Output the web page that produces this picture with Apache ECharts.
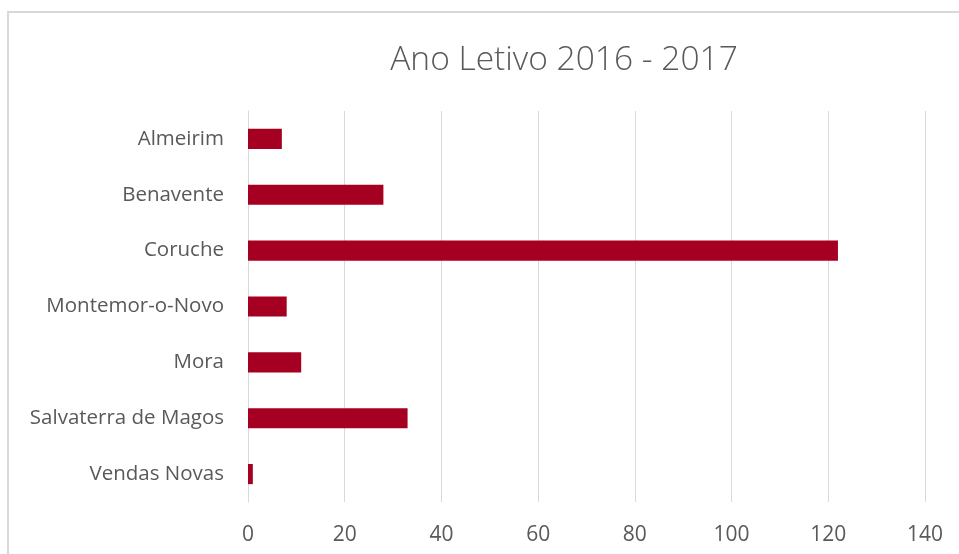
<!DOCTYPE html>
<html><head><meta charset="utf-8">
<script src="https://cdn.jsdelivr.net/npm/echarts@6/dist/echarts.min.js"></script>
<style>html,body{margin:0;padding:0;background:#fff;}#c{width:959px;height:554px;}</style>
</head><body><div id="c"></div>
<script>
const titleText = "Ano Letivo 2016 - 2017";
const categories = ["Almeirim","Benavente","Coruche","Montemor-o-Novo","Mora","Salvaterra de Magos","Vendas Novas"];
const values = [7,28,122,8,11,33,1];
const xTicks = [0,20,40,60,80,100,120,140];

const chart = echarts.init(document.getElementById('c'), null, {renderer:'canvas'});
chart.setOption({
  animation:false,
  backgroundColor:'#fff',
  graphic:[{type:'rect',shape:{x:8,y:12,width:1000,height:600},style:{fill:'none',stroke:'#d9d9d9',lineWidth:2},silent:true}],
  title:{text:titleText,left:559,top:38,textAlign:'center',textStyle:{fontFamily:'Open Sans',fontWeight:300,fontSize:33.5,color:'#595959'}},
  grid:{left:248,right:34,top:111,bottom:52,containLabel:false},
  xAxis:{type:'value',min:xTicks[0],max:xTicks[xTicks.length-1],interval:20,
    axisLine:{show:false},axisTick:{show:false},
    splitLine:{lineStyle:{color:'#d9d9d9',width:1}},
    axisLabel:{fontFamily:'Open Sans',fontSize:21,color:'#595959',margin:23}},
  yAxis:{type:'category',data:categories,inverse:true,
    axisLine:{show:true,lineStyle:{color:'#d9d9d9',width:1}},axisTick:{show:false},
    axisLabel:{fontFamily:'Open Sans',fontSize:20.5,color:'#595959',margin:24}},
  series:[{type:'bar',data:values,barWidth:'36%',itemStyle:{color:'#a50021'}}]
});
</script></body></html>
